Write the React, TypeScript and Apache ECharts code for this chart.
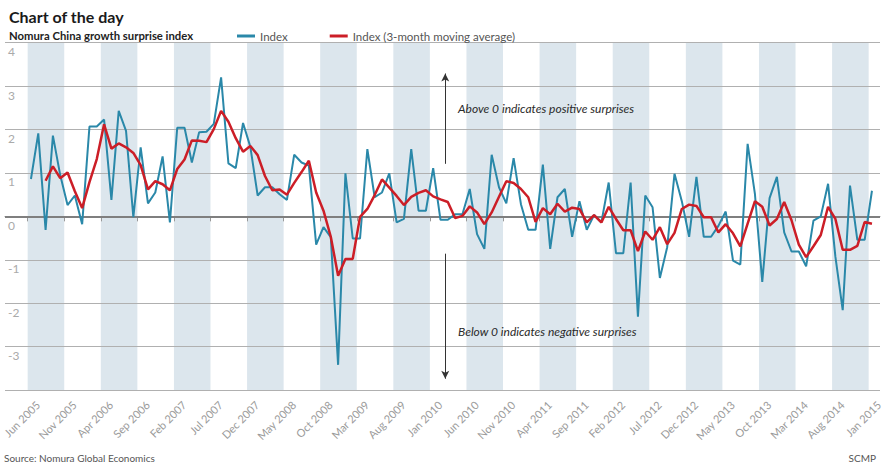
import React, { useEffect, useRef } from "react";
import * as echarts from "echarts";

const xTickLabels = [
  "Jun 2005", "Nov 2005", "Apr 2006", "Sep 2006", "Feb 2007", "Jul 2007",
  "Dec 2007", "May 2008", "Oct 2008", "Mar 2009", "Aug 2009", "Jan 2010",
  "Jun 2010", "Nov 2010", "Apr 2011", "Sep 2011", "Feb 2012", "Jul 2012",
  "Dec 2012", "May 2013", "Oct 2013", "Mar 2014", "Aug 2014", "Jan 2015",
];

// Monthly values, Jun 2005 .. Jan 2015
const indexValues = [
  0.86, 1.91, -0.31, 1.86, 0.95, 0.26, 0.48, -0.18, 2.07, 2.07,
  2.23, 0.38, 2.43, 1.97, -0.02, 1.59, 0.30, 0.55, 1.38, -0.14,
  2.04, 2.04, 1.24, 1.94, 1.95, 2.13, 3.20, 1.22, 1.11, 2.15,
  1.60, 0.48, 0.67, 0.67, 0.51, 0.38, 1.42, 1.24, 1.17, -0.65,
  -0.25, -0.48, -3.42, 0.99, -0.51, -0.51, 1.55, 0.44, 0.55, 0.99,
  -0.14, -0.06, 1.55, 0.13, 0.13, 1.11, -0.08, -0.08, 0.05, 0.05,
  0.63, -0.41, -0.75, 1.42, 0.67, 0.30, 1.34, 0.28, -0.31, -0.31,
  1.19, -0.75, 0.44, 0.63, -0.47, 0.35, -0.31, 0.03, -0.14, 0.78,
  -0.85, -0.85, 0.78, -2.31, 0.48, 0.21, -1.42, -0.71, 0.98, 0.35,
  -0.47, 0.91, -0.47, -0.47, -0.22, 0.11, -1.02, -1.11, 1.67, 0.51,
  -1.51, 0.42, 0.91, -0.37, -0.81, -0.81, -1.15, -0.10, 0.00, 0.75,
  -0.93, -2.16, 0.71, -0.54, -0.54, 0.59,
];

const maValues = [
  null, null, 0.82, 1.15, 0.88, 1.01, 0.58, 0.19, 0.79, 1.32,
  2.12, 1.56, 1.68, 1.59, 1.46, 1.18, 0.62, 0.81, 0.74, 0.60,
  1.09, 1.31, 1.75, 1.74, 1.71, 2.01, 2.43, 2.18, 1.80, 1.49,
  1.62, 1.41, 0.93, 0.60, 0.62, 0.50, 0.77, 1.02, 1.28, 0.55,
  0.13, -0.47, -1.37, -0.98, -0.98, -0.01, 0.17, 0.49, 0.85, 0.66,
  0.47, 0.26, 0.45, 0.54, 0.60, 0.46, 0.39, 0.33, -0.04, 0.01,
  0.23, 0.09, -0.18, 0.09, 0.45, 0.81, 0.77, 0.63, 0.44, -0.13,
  0.19, 0.05, 0.29, 0.11, 0.20, 0.17, -0.14, 0.03, -0.14, 0.22,
  -0.06, -0.32, -0.32, -0.80, -0.35, -0.54, -0.25, -0.64, -0.38, 0.17,
  0.27, 0.24, -0.02, -0.02, -0.37, -0.18, -0.39, -0.69, -0.17, 0.35,
  0.22, -0.21, -0.06, 0.33, -0.09, -0.65, -0.94, -0.69, -0.43, 0.22,
  -0.06, -0.77, -0.77, -0.68, -0.13, -0.17,
];

const FONT = "Lato, 'Noto Sans', sans-serif";
const BLUE = "#2a88a9";
const RED = "#cc1e27";

export default function App() {
  const ref = useRef<HTMLDivElement>(null);

  useEffect(() => {
    document.body.style.margin = "0";
    if (!ref.current) return;
    const chart = echarts.init(ref.current, null, { renderer: "svg" });

    const tickValues = xTickLabels.map((_, k) => k * 5);
    const labelShift = 0.85;
    const labelValues = tickValues.map((v) => v + labelShift);
    const bands = xTickLabels
      .map((_, k) => k * 5)
      .filter((_, k) => k % 2 === 0 && k < xTickLabels.length - 1)
      .map((s) => [{ xAxis: s }, { xAxis: s + 5 }]);

    const offset = 0.45;
    const blueData = indexValues.map((v, i) => [i + offset, v]);
    const redData = maValues.map((v, i) => [i + offset, v]);

    const arrowX = 57.1;

    chart.setOption({
      animation: false,
      textStyle: { fontFamily: FONT },
      title: [
        {
          text: "Chart of the day",
          left: 4,
          top: 3,
          textStyle: { fontSize: 16, fontWeight: "bold", color: "#1a1a1a", fontFamily: FONT },
        },
        {
          text: "Nomura China growth surprise index",
          left: 4,
          top: 25,
          textStyle: { fontSize: 11.3, fontWeight: "bold", color: "#222", fontFamily: FONT },
        },
      ],
      legend: {
        left: 232,
        top: 25,
        icon: "rect",
        itemWidth: 18,
        itemHeight: 3,
        itemGap: 42,
        textStyle: { fontSize: 11.5, color: "#555", fontFamily: FONT },
        data: ["Index", "Index (3-month moving average)"],
      },
      grid: {
        left: 5,
        right: 2,
        top: 42.7,
        bottom: 75,
        containLabel: false,
        outerBoundsMode: "none",
      },
      xAxis: {
        type: "value",
        min: -3.1,
        max: 116.55,
        z: 2,
        splitLine: { show: false },
        axisLine: { show: true, lineStyle: { color: "#999", width: 1 } },
        axisTick: {
          show: true,
          customValues: tickValues,
          length: 5,
          lineStyle: { color: "#999" },
        },
        axisLabel: {
          customValues: labelValues,
          rotate: 45,
          margin: 9,
          verticalAlign: "top",
          color: "#9a9a9a",
          fontSize: 11,
          fontFamily: FONT,
          formatter: (v: number) => xTickLabels[Math.round((v - labelShift) / 5)] ?? "",
        },
      },
      yAxis: {
        type: "value",
        min: -4,
        max: 4,
        interval: 1,
        z: 2,
        axisLine: { show: false },
        axisTick: { show: false },
        splitLine: { show: true, lineStyle: { color: "#b0b0b0", width: 1 } },
        axisLabel: {
          inside: true,
          margin: 3,
          verticalAlign: "top",
          padding: [3, 0, 0, 0],
          color: "#aaa",
          fontSize: 12,
          fontFamily: FONT,
          formatter: (v: number) => (v === -4 ? "" : String(v)),
        },
      },
      series: [
        {
          name: "Index",
          type: "line",
          data: blueData,
          showSymbol: false,
          z: 4,
          lineStyle: { color: BLUE, width: 2 },
          itemStyle: { color: BLUE },
          markArea: {
            silent: true,
            z: 1,
            itemStyle: { color: "#dce6ed" },
            data: bands,
          },
          markLine: {
            silent: true,
            z: 3,
            symbol: ["none", "none"],
            label: { show: false },
            data: [
              { yAxis: 0, lineStyle: { color: "#7f7f7f", width: 2, type: "solid" } },
              [
                { coord: [arrowX, 1.21], symbol: "none" },
                { coord: [arrowX, 3.29], symbol: "arrow", symbolSize: [6, 8] },
              ],
              [
                { coord: [arrowX, -0.86], symbol: "none" },
                { coord: [arrowX, -3.74], symbol: "arrow", symbolSize: [6, 8] },
              ],
            ],
            lineStyle: { color: "#333", width: 1, type: "solid" },
          },
        },
        {
          name: "Index (3-month moving average)",
          type: "line",
          data: redData,
          showSymbol: false,
          connectNulls: false,
          z: 5,
          lineStyle: { color: RED, width: 2.5 },
          itemStyle: { color: RED },
        },
      ],
      graphic: [
        {
          type: "text",
          left: 458,
          top: 102,
          z: 100,
          style: { text: "Above 0 indicates positive surprises", font: `italic 12px ${FONT}`, fill: "#2a2a2a" },
        },
        {
          type: "text",
          left: 458,
          top: 325,
          z: 100,
          style: { text: "Below 0 indicates negative surprises", font: `italic 12px ${FONT}`, fill: "#2a2a2a" },
        },
        {
          type: "text",
          left: 4,
          top: 453,
          z: 100,
          style: { text: "Source: Nomura Global Economics", font: `10px ${FONT}`, fill: "#555" },
        },
        {
          type: "text",
          right: 6,
          top: 453,
          z: 100,
          style: { text: "SCMP", font: `10px ${FONT}`, fill: "#555" },
        },
      ],
    });

    return () => chart.dispose();
  }, []);

  return <div ref={ref} style={{ width: 882, height: 465 }} />;
}
